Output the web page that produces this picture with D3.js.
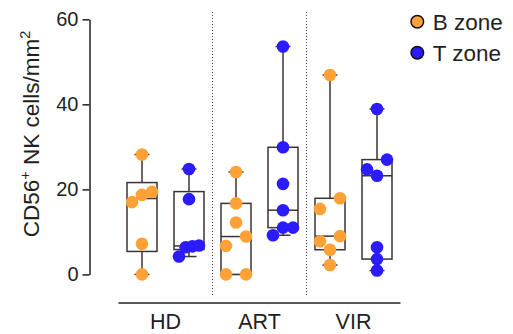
<!DOCTYPE html>
<html>
<head>
<meta charset="utf-8">
<script src="https://cdn.jsdelivr.net/npm/d3@7"></script>
<style>
body{margin:0;background:#fff;}
text{font-family:"Liberation Sans",Arial,sans-serif;fill:#231f20;}
</style>
</head>
<body>
<svg width="513" height="334"></svg>
<script>
var categories=["HD","ART","VIR"];
var zones=["B zone","T zone"];
var zoneColors=["#ffa137","#2b1cff"];
// values per category
var bZone=[[28.2,19.4,18.7,17.0,7.2,0],[24.1,16.7,12.2,8.9,6.7,0,0],[46.9,17.9,15.4,9.0,7.8,5.8,2.2]];
var tZone=[[24.8,17.7,6.8,6.6,6.4,4.2],[53.6,29.9,21.3,15.1,11.0,11.0,9.2],[38.9,27.0,24.7,23.2,6.4,3.6,0.9]];
var yTicks=[0,20,40,60];

var svg=d3.select("svg");
var ink="#231f20";
var boxInk="#3b3432";
var r=6.3;

var y=d3.scaleLinear().domain([0,60]).range([274.4,19.3]);
var x=d3.scaleBand().domain(categories).range([118.5,400.5]);
var xz=d3.scaleBand().domain(zones).range([0,x.bandwidth()]);

// quartiles the way prism does it, (n+1)p
var quant=function(s,p){
  var n=s.length;
  var pos=(n+1)*p;
  if(pos<=1) return s[0];
  if(pos>=n) return s[n-1];
  var lo=Math.floor(pos);
  return s[lo-1]+(pos-lo)*(s[lo]-s[lo-1]);
}

var groups=[];
categories.forEach(function(c,ci){
  [bZone,tZone].forEach(function(arr,zi){
    var vals=arr[ci];
    var s=vals.slice().sort(d3.ascending);
    groups.push({cat:c,zone:zones[zi],color:zoneColors[zi],vals:vals,
      min:s[0],max:s[s.length-1],q1:quant(s,.25),med:quant(s,.5),q3:quant(s,.75),
      cx:x(c)+xz(zones[zi])+xz.bandwidth()/2});
  });
});

// separators
svg.selectAll("line.sep")
.data(categories.slice(1))
.enter()
.append("line")
.attr("class","sep")
.attr("x1",function(d){return x(d);})
.attr("x2",function(d){return x(d);})
.attr("y1",12)
.attr("y2",297)
.attr("stroke","#444")
.attr("stroke-width",1)
.attr("stroke-dasharray","1,2");

// y axis
var yAxis=svg.append("g")
.attr("transform","translate(89.5,0)")
.call(d3.axisLeft(y).tickValues(yTicks).tickSize(7).tickSizeOuter(0).tickPadding(4));
yAxis.select(".domain").attr("stroke",ink).attr("stroke-width",1.5);
yAxis.selectAll(".tick line").attr("stroke",ink).attr("stroke-width",1.5);
yAxis.selectAll(".tick text").attr("font-size",20).attr("font-family","Liberation Sans, Arial, sans-serif").attr("fill",ink);

// bottom line and labels
svg.append("line")
.attr("x1",x.range()[0]).attr("x2",x.range()[1])
.attr("y1",303).attr("y2",303)
.attr("stroke",ink).attr("stroke-width",1.5);

svg.selectAll("text.cat")
.data(categories)
.enter()
.append("text")
.attr("class","cat")
.attr("x",function(d){return x(d)+x.bandwidth()/2;})
.attr("y",328.5)
.attr("text-anchor","middle")
.attr("font-size",21.5)
.text(function(d){return d;});

// y title
var title=svg.append("text")
.attr("transform","translate(38.5,134) rotate(-90)")
.attr("text-anchor","middle")
.attr("font-size",22.5);
title.append("tspan").text("CD56");
title.append("tspan").attr("dy",-9).attr("font-size",14.5).text("+");
title.append("tspan").attr("dy",9).text(" NK cells/mm");
title.append("tspan").attr("dy",-9).attr("font-size",14.5).text("2");

// whiskers
var boxW=30, capW=15;
var g=svg.selectAll("g.box").data(groups).enter().append("g").attr("class","box");
g.append("line")
.attr("x1",function(d){return d.cx;}).attr("x2",function(d){return d.cx;})
.attr("y1",function(d){return y(d.max);}).attr("y2",function(d){return y(d.min);})
.attr("stroke",boxInk).attr("stroke-width",1.5);
g.append("line")
.attr("x1",function(d){return d.cx-capW/2;}).attr("x2",function(d){return d.cx+capW/2;})
.attr("y1",function(d){return y(d.max);}).attr("y2",function(d){return y(d.max);})
.attr("stroke",boxInk).attr("stroke-width",1.5);
g.append("line")
.attr("x1",function(d){return d.cx-capW/2;}).attr("x2",function(d){return d.cx+capW/2;})
.attr("y1",function(d){return y(d.min);}).attr("y2",function(d){return y(d.min);})
.attr("stroke",boxInk).attr("stroke-width",1.5);
g.append("rect")
.attr("x",function(d){return d.cx-boxW/2;})
.attr("width",boxW)
.attr("y",function(d){return y(d.q3);})
.attr("height",function(d){return y(d.q1)-y(d.q3);})
.attr("fill","#fff").attr("stroke",boxInk).attr("stroke-width",1.5);
g.append("line")
.attr("x1",function(d){return d.cx-boxW/2;}).attr("x2",function(d){return d.cx+boxW/2;})
.attr("y1",function(d){return y(d.med);}).attr("y2",function(d){return y(d.med);})
.attr("stroke",boxInk).attr("stroke-width",1.5);

// scatter, close values spread sideways in rows
var pts=[];
groups.forEach(function(gr){
  var s=gr.vals.slice().sort(d3.descending);
  var rows=[],cur=null;
  s.forEach(function(v){
    if(cur && y(v)-y(cur[0])<11.3) cur.push(v);
    else {cur=[v];rows.push(cur);}
  });
  rows.forEach(function(row){
    var asc=row.slice().sort(d3.ascending);
    asc.forEach(function(v,i){
      var off=asc.length==1?0:-10+i*20/(asc.length-1);
      pts.push({x:gr.cx+off,v:v,color:gr.color});
    });
  });
});
svg.selectAll("circle.pt")
.data(pts)
.enter()
.append("circle")
.attr("class","pt")
.attr("cx",function(d){return d.x;})
.attr("cy",function(d){return y(d.v);})
.attr("r",r)
.attr("fill",function(d){return d.color;});

// legend
var leg=svg.selectAll("g.leg").data(zones).enter().append("g").attr("class","leg")
.attr("transform",function(d,i){return "translate(417.3,"+(21.7+i*31)+")";});
leg.append("circle").attr("r",6.3)
.attr("fill",function(d,i){return zoneColors[i];})
.attr("stroke","#111").attr("stroke-width",1.5);
leg.append("text").attr("x",15.4).attr("y",8.2).attr("font-size",22.5)
.text(function(d){return d;});
</script>
</body>
</html>
